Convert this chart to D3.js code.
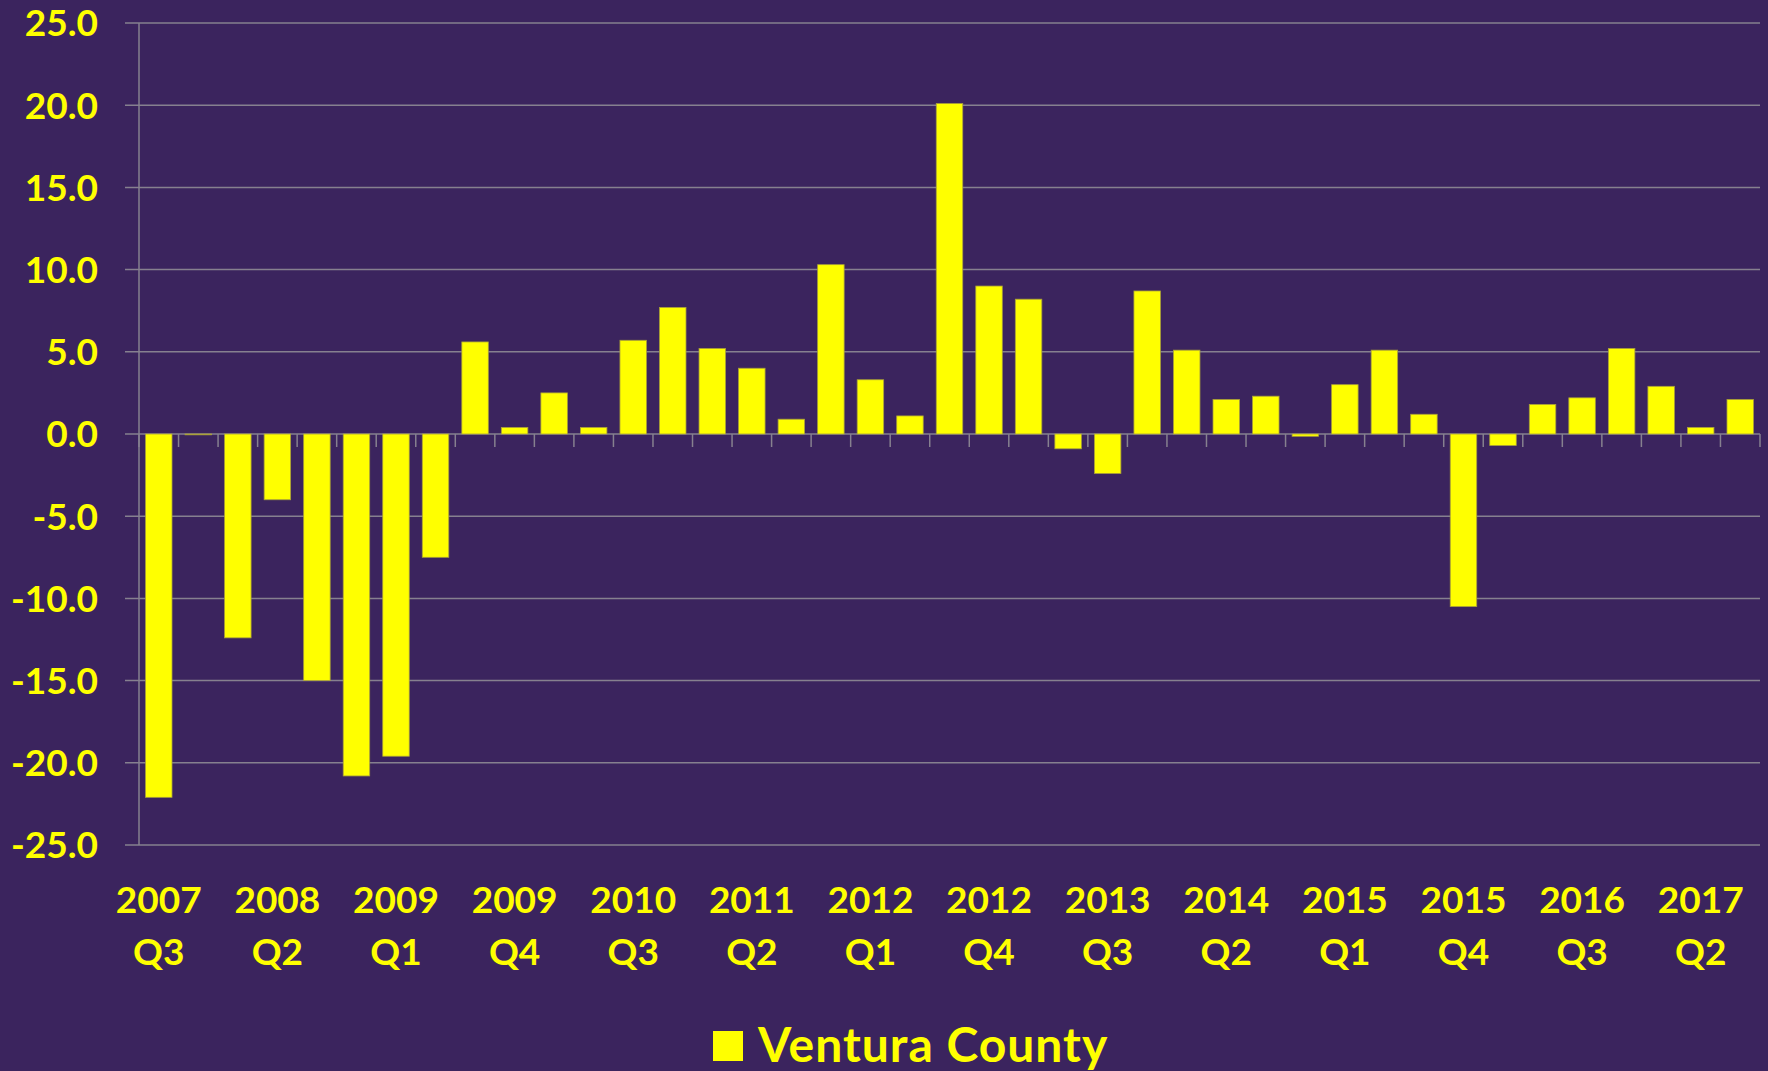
<!DOCTYPE html>
<html>
<head>
<meta charset="utf-8">
<script src="https://cdn.jsdelivr.net/npm/d3@7"></script>
<style>
  body { margin: 0; background: #3b245e; }
  text { font-family: Lato, 'Open Sans', sans-serif; font-weight: bold; fill: #ffff00; }
</style>
</head>
<body>
<script>
const width = 1768
const height = 1071

// quarterly change, Ventura County
const categories = [
  '2007 Q3', '2007 Q4', '2008 Q1', '2008 Q2', '2008 Q3', '2008 Q4',
  '2009 Q1', '2009 Q2', '2009 Q3', '2009 Q4', '2010 Q1', '2010 Q2',
  '2010 Q3', '2010 Q4', '2011 Q1', '2011 Q2', '2011 Q3', '2011 Q4',
  '2012 Q1', '2012 Q2', '2012 Q3', '2012 Q4', '2013 Q1', '2013 Q2',
  '2013 Q3', '2013 Q4', '2014 Q1', '2014 Q2', '2014 Q3', '2014 Q4',
  '2015 Q1', '2015 Q2', '2015 Q3', '2015 Q4', '2016 Q1', '2016 Q2',
  '2016 Q3', '2016 Q4', '2017 Q1', '2017 Q2', '2017 Q3'
]
const values = [
  -22.1, -0.05, -12.4, -4.0, -15.0, -20.8,
  -19.6, -7.5, 5.6, 0.4, 2.5, 0.4,
  5.7, 7.7, 5.2, 4.0, 0.9, 10.3,
  3.3, 1.1, 20.1, 9.0, 8.2, -0.9,
  -2.4, 8.7, 5.1, 2.1, 2.3, -0.14,
  3.0, 5.1, 1.2, -10.5, -0.7, 1.8,
  2.2, 5.2, 2.9, 0.4, 2.1
]
const yTicks = [-25, -20, -15, -10, -5, 0, 5, 10, 15, 20, 25]
const seriesName = 'Ventura County'

const plotLeft = 139
const plotRight = 1760
const plotTop = 23
const plotBottom = 845

let svg = d3.select('body').append('svg')
  .attr('width', width)
  .attr('height', height)
  .style('background', '#3b245e')
  .style('display', 'block')

let x = d3.scaleBand()
  .domain(categories)
  .range([plotLeft, plotRight])
  .paddingInner(0.33)
  .paddingOuter(0.165)

let y = d3.scaleLinear()
  .domain([-25, 25])
  .range([plotBottom, plotTop])

// plain hyphen for negatives, like the original
const fmt = d3.formatLocale({ decimal: '.', thousands: ',', grouping: [3], currency: ['', ''], minus: '-' }).format('.1f')

// gridlines + y labels
svg.append('g')
  .selectAll('line')
  .data(yTicks)
  .enter()
  .append('line')
  .attr('x1', plotLeft - 14)
  .attr('x2', plotRight)
  .attr('y1', (d) => y(d))
  .attr('y2', (d) => y(d))
  .attr('stroke', '#86808f')
  .attr('stroke-width', 1.5)

svg.append('g')
  .selectAll('text')
  .data(yTicks)
  .enter()
  .append('text')
  .attr('x', 98)
  .attr('y', (d) => y(d))
  .attr('dy', '0.36em')
  .attr('text-anchor', 'end')
  .style('font-size', '37px')
  .text((d) => fmt(d))

// y axis line
svg.append('line')
  .attr('x1', plotLeft).attr('x2', plotLeft)
  .attr('y1', plotTop).attr('y2', plotBottom)
  .attr('stroke', '#86808f')
  .attr('stroke-width', 1.5)

// category ticks under the zero line
let step = x.step()
let bounds = d3.range(categories.length + 1).map((i) => plotLeft + i * step)
svg.append('g')
  .selectAll('line')
  .data(bounds)
  .enter()
  .append('line')
  .attr('x1', (d) => d)
  .attr('x2', (d) => d)
  .attr('y1', y(0))
  .attr('y2', y(0) + 13)
  .attr('stroke', '#86808f')
  .attr('stroke-width', 1.5)

// bars
svg.append('g')
  .selectAll('rect')
  .data(values)
  .enter()
  .append('rect')
  .attr('x', (d, i) => x(categories[i]))
  .attr('width', x.bandwidth())
  .attr('y', (d) => y(Math.max(0, d)))
  .attr('height', (d) => Math.abs(y(d) - y(0)))
  .attr('fill', '#ffff00')
  .attr('stroke', '#a89f3a')
  .attr('stroke-width', 0.8)

// x labels, every third quarter
let labels = svg.append('g')
  .selectAll('text')
  .data(categories.filter((d, i) => i % 3 === 0))
  .enter()
  .append('text')
  .attr('text-anchor', 'middle')
  .style('font-size', '37px')

labels.append('tspan')
  .attr('x', (d) => x(d) + x.bandwidth() / 2)
  .attr('y', 913)
  .text((d) => d.split(' ')[0])

labels.append('tspan')
  .attr('x', (d) => x(d) + x.bandwidth() / 2)
  .attr('y', 965)
  .text((d) => d.split(' ')[1])

// legend
svg.append('rect')
  .attr('x', 713)
  .attr('y', 1031)
  .attr('width', 30)
  .attr('height', 30)
  .attr('fill', '#ffff00')

svg.append('text')
  .attr('x', 758)
  .attr('y', 1062)
  .style('font-size', '48px')
  .style('letter-spacing', '1px')
  .text(seriesName)
</script>
</body>
</html>
